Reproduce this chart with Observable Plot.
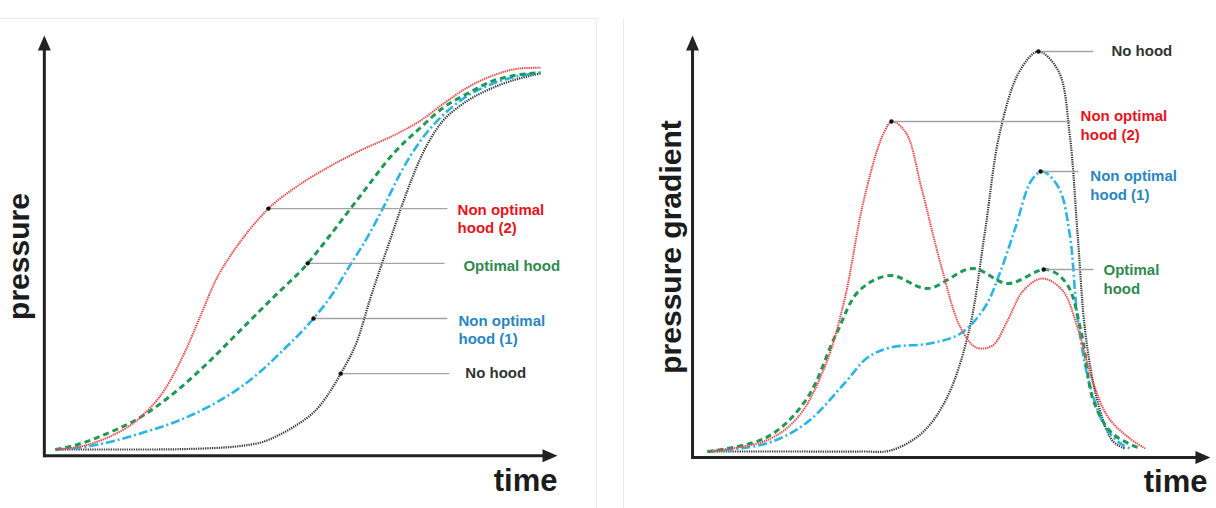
<!DOCTYPE html>
<html>
<head>
<meta charset="utf-8">
<script src="https://cdn.jsdelivr.net/npm/d3@7"></script>
<script src="https://cdn.jsdelivr.net/npm/@observablehq/plot@0.6"></script>
<style>
  body { margin: 0; background: #fff; }
  #wrap { position: relative; width: 1216px; height: 508px; overflow: hidden; font-family: "Liberation Sans", Arial, sans-serif; }
  .panel { position: absolute; top: 0; width: 608px; height: 508px; }
  #left { left: 0; }
  #right { left: 608px; }
  .border { position: absolute; background: #ececec; }
</style>
</head>
<body>
<div id="wrap">
  <div class="border" style="left:0;top:18px;width:596px;height:1px"></div>
  <div class="border" style="left:596px;top:18px;width:1px;height:490px"></div>
  <div class="border" style="left:623px;top:18px;width:1px;height:490px"></div>
  <div class="panel" id="left"></div>
  <div class="panel" id="right"></div>
</div>
<script>
// ---------- DATA (time, value) ----------
// Left panel: pressure vs time
const pressureNoOpt2 = [[0,0],[5.2,0.8],[10.7,3.1],[17.5,8.4],[22.7,16.0],[26.8,25.8],[29.9,34.9],[33.0,44.1],[36.5,51.4],[40.2,57.7],[43.9,62.9],[49.1,68.1],[56.1,73.6],[62.9,78.1],[69.7,82.0],[75.3,85.9],[80.0,90.3],[84.9,94.5],[90.3,97.7],[95.9,99.5],[100,99.7]];
const pressureOptimal = [[0,0],[3.7,1],[10.7,4.2],[17.5,8.4],[24.3,14.6],[31.3,22.5],[38.1,31.1],[44.9,39.7],[52.0,48.6],[56.1,55.1],[62.9,66.3],[69.7,77.3],[75.3,84.1],[80.0,89.3],[84.9,92.9],[90.3,96.3],[100,98.4]];
const pressureNoOpt1 = [[0,0],[3.7,0.3],[10.7,1.8],[17.5,4.2],[24.3,7.0],[31.3,11.0],[38.1,16.2],[42.3,20.4],[46.4,25.3],[53.2,34.2],[57.0,40.4],[60.2,47.0],[64.3,55.4],[67.6,63.2],[71.1,72.1],[75.3,80.7],[79.4,86.7],[83.5,91.1],[90.3,95.6],[100,98.4]];
const pressureNoHood = [[0,0],[19.6,0],[31.3,0.3],[41.6,1.6],[46.4,4.0],[49.1,5.9],[54.6,11.6],[58.8,19.8],[62.3,28.7],[64.9,39.4],[69.1,55.1],[71.8,65.0],[75.3,76.2],[79.4,85.1],[83.5,89.8],[90.3,94.5],[100,98.2]];

// Right panel: pressure gradient vs time
const gradientNoOpt2 = [[0,0],[13.4,2.75],[20.5,8.5],[26.6,21],[31.1,37.75],[35.5,62.75],[40.0,79.5],[42.0,82.5],[45.2,79.5],[48.6,66],[53.2,46],[57.5,31],[61.1,26],[64.8,26.5],[68.2,32.75],[71.8,40.25],[76.1,43.25],[80.7,40.25],[84.1,31],[87.7,17],[91.1,8.5],[95.7,3.5],[99.5,0.75]];
const gradientOptimal = [[0,0],[13.4,3.5],[22.3,12.75],[29.3,29.5],[34.5,40.25],[41.6,44],[50,40.75],[60.2,45.75],[68.2,42],[77.0,45.5],[81.6,42],[85.0,29.5],[87.7,12.75],[92.0,4.5],[98.4,0.75]];
const gradientNoOpt1 = [[0,0],[13.4,2],[22.3,7],[31.1,17],[36.4,23.5],[41.6,26],[50.5,27],[57.5,29.5],[63.0,36],[66.4,44.5],[70.0,56],[73.6,67.75],[76.1,70],[79.8,66],[82.3,54.5],[84.1,33.5],[86.8,17],[90.5,6],[93.9,2],[96.1,0.75]];
const gradientNoHood = [[0,0],[20,0],[35,0],[41.6,0.25],[48.6,4.5],[54.1,12.75],[59.3,29.5],[63.0,54.5],[66.4,79.5],[70.9,95],[75.2,100],[79.8,95],[82.3,79.5],[84.1,54.5],[85.9,29.5],[88.6,12.75],[92.0,2.75],[94.8,0.75]];

// Annotations (order: no-opt-2, optimal, no-opt-1, no hood)
const seriesKeys = ["red", "green", "cyan", "black"];
const pressureLabels = ["Non optimal\nhood (2)", "Optimal hood", "Non optimal\nhood (1)", "No hood"];
const pressureMarkTime = [43.9, 52.0, 53.2, 58.8];
const pressureMarkValue = [62.9, 48.6, 34.2, 19.8];
const pressureLeaderEnd = [80.8, 80.2, 80.8, 81.2];
const pressureLabelTime = [82.9, 84.1, 83.1, 84.5];
const pressureLabelValue = [63.2, 48.6, 34.2, 20.6];

const gradientLabels = ["Non optimal\nhood (2)", "Optimal\nhood", "Non optimal\nhood (1)", "No hood"];
const gradientMarkTime = [41.8, 76.4, 75.7, 75.2];
const gradientMarkValue = [82.5, 45.5, 70, 100];
const gradientLeaderEnd = [82.5, 87.7, 84.3, 87.7];
const gradientLabelTime = [84.8, 90.0, 87.0, 91.8];
const gradientLabelValue = [84.5, 46, 69.5, 100.75];

// ---------- STYLES ----------
const lineStyles = {
  black: {stroke: "#3a3a3a", strokeWidth: 2.2, strokeDasharray: "1.3 1"},
  cyan:  {stroke: "#29b5e6", strokeWidth: 2.6, strokeDasharray: "9 3 2 3"},
  green: {stroke: "#1e9a55", strokeWidth: 3, strokeDasharray: "6 4"},
  red:   {stroke: "#f0474b", strokeWidth: 2, strokeDasharray: "1.4 0.8"}
};
const labelColors = {red: "#e8141c", green: "#2f8a50", cyan: "#2b86c0", black: "#333333"};

const arrowUp = {draw(ctx) { ctx.moveTo(0, 0); ctx.lineTo(6.5, 15); ctx.lineTo(-6.5, 15); ctx.closePath(); }};
const arrowRight = {draw(ctx) { ctx.moveTo(0, 0); ctx.lineTo(-15, 6.5); ctx.lineTo(-15, -6.5); ctx.closePath(); }};

function toRows(pairs, key) { return pairs.map(([t, v]) => ({t, v, key})); }

function makePanel(cfg) {
  const W = 608, H = 508;
  const pxX = (W - cfg.ml - cfg.mr) / 100;
  const pxY = (H - cfg.mt - cfg.mb) / 100;
  const ax = cfg.axes;
  const lineOrder = ["black", "cyan", "green", "red"];
  const lineMarks = lineOrder.map(k => Plot.line(toRows(cfg.series[k], k), {x: "t", y: "v", curve: cfg.curve, ...lineStyles[k], strokeLinecap: "butt"}));
  const ann = seriesKeys.map((k, i) => ({
    key: k, label: cfg.labels[i], t: cfg.markT[i], v: cfg.markV[i], t2: cfg.leaderEnd[i], lt: cfg.labelT[i], lv: cfg.labelV[i]
  }));
  return Plot.plot({
    width: W, height: H,
    marginLeft: cfg.ml, marginRight: cfg.mr, marginTop: cfg.mt, marginBottom: cfg.mb,
    x: {domain: [0, 100], axis: null},
    y: {domain: [0, 100], axis: null},
    style: {overflow: "visible", background: "transparent", fontFamily: "'Liberation Sans', Arial, sans-serif"},
    marks: [
      // axes with arrowheads
      Plot.link([{x1: ax.x0, y1: ax.y0, x2: ax.x1 - 8 / pxX, y2: ax.y0}], {x1: "x1", y1: "y1", x2: "x2", y2: "y2", stroke: "#222", strokeWidth: 3}),
      Plot.link([{x1: ax.x0, y1: ax.y0 - 1.5 / pxY, x2: ax.x0, y2: ax.y1 - 8 / pxY}], {x1: "x1", y1: "y1", x2: "x2", y2: "y2", stroke: "#222", strokeWidth: 3}),
      Plot.dot([{x: ax.x1, y: ax.y0}], {x: "x", y: "y", symbol: arrowRight, fill: "#222", stroke: "none", r: 5}),
      Plot.dot([{x: ax.x0, y: ax.y1}], {x: "x", y: "y", symbol: arrowUp, fill: "#222", stroke: "none", r: 5}),
      // curves
      ...lineMarks,
      // leader lines, dots and labels
      Plot.link(ann, {x1: "t", x2: "t2", y1: "v", y2: "v", stroke: "#a3a3a3", strokeWidth: 1.4}),
      Plot.dot(ann, {x: "t", y: "v", r: 2.2, fill: "#111", stroke: "none"}),
      Plot.text(ann, {x: "lt", y: "lv", text: "label", textAnchor: "start", lineAnchor: "top", dy: -5.5,
        lineHeight: cfg.lineHeight, fontSize: 15, fontWeight: "bold", fill: d => labelColors[d.key]}),
      // axis titles
      Plot.text([cfg.yTitle], {frameAnchor: "left", rotate: -90, textAnchor: "middle", lineAnchor: "middle",
        dx: cfg.yTitleDx, dy: cfg.yTitleDy, fontSize: 30, fontWeight: "bold", fill: "#1c1c1c"}),
      Plot.text(["time"], {frameAnchor: "bottom-right", textAnchor: "end", lineAnchor: "top",
        dx: cfg.timeDx, dy: cfg.timeDy, fontSize: 31, fontWeight: "bold", fill: "#1c1c1c"})
    ]
  });
}

const left = makePanel({
  ml: 55, mr: 68, mt: 66, mb: 59, curve: "monotone-x",
  series: {red: pressureNoOpt2, green: pressureOptimal, cyan: pressureNoOpt1, black: pressureNoHood},
  axes: {x0: -2.3, x1: 103.5, y0: -1.6, y1: 108.1},
  labels: pressureLabels, markT: pressureMarkTime, markV: pressureMarkValue, leaderEnd: pressureLeaderEnd,
  labelT: pressureLabelTime, labelV: pressureLabelValue, lineHeight: 1.2,
  yTitle: "pressure", yTitleDx: -36, yTitleDy: -1.5, timeDx: 17, timeDy: 19
});
const right = makePanel({
  ml: 99, mr: 69, mt: 51, mb: 57, curve: "catmull-rom",
  series: {red: gradientNoOpt2, green: gradientOptimal, cyan: gradientNoOpt1, black: gradientNoHood},
  axes: {x0: -3.4, x1: 114.3, y0: -1.5, y1: 104},
  labels: gradientLabels, markT: gradientMarkTime, markV: gradientMarkValue, leaderEnd: gradientLeaderEnd,
  labelT: gradientLabelTime, labelV: gradientLabelValue, lineHeight: 1.25,
  yTitle: "pressure gradient", yTitleDx: -36, yTitleDy: -4.5, timeDx: 60, timeDy: 18
});
document.getElementById("left").appendChild(left);
document.getElementById("right").appendChild(right);
</script>
</body>
</html>
